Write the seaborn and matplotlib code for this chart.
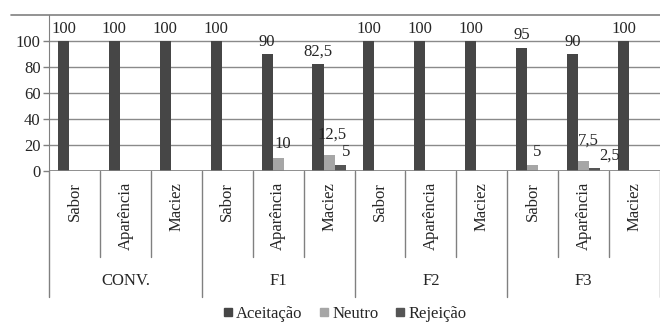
import matplotlib
matplotlib.use("Agg")
import matplotlib.pyplot as plt
import pandas as pd
import seaborn as sns
from matplotlib.lines import Line2D

grupos = ['CONV.', 'F1', 'F2', 'F3']
atributos = ['Sabor', 'Aparência', 'Maciez']
respostas = ['Aceitação', 'Neutro', 'Rejeição']

aceitacao = [100, 100, 100, 100, 90, 82.5, 100, 100, 100, 95, 90, 100]
neutro = [0, 0, 0, 0, 10, 12.5, 0, 0, 0, 5, 7.5, 0]
rejeicao = [0, 0, 0, 0, 0, 5, 0, 0, 0, 0, 2.5, 0]

cores = {'Aceitação': '#464646', 'Neutro': '#a6a6a6', 'Rejeição': '#555555'}

# label nudges in pixels (dx, dy) for the small labels that Excel moved
nudges = {(5, 'Neutro'): (3, 8), (5, 'Rejeição'): (6, 0), (4, 'Neutro'): (5, 2),
          (9, 'Neutro'): (4, 0), (10, 'Neutro'): (5, 8), (10, 'Rejeição'): (15, 0)}

cats = [f'{g}|{a}' for g in grupos for a in atributos]
df = pd.DataFrame({
    'cat': cats * 3,
    'resposta': [r for r in respostas for _ in cats],
    'valor': aceitacao + neutro + rejeicao,
})

sns.set_style('white')
plt.rcParams['font.family'] = ['Liberation Serif', 'DejaVu Serif']
FS = 12
plt.rcParams['font.size'] = FS

W, H = 660, 322
fig = plt.figure(figsize=(W / 100, H / 100), dpi=100)
ax = fig.add_axes([49 / W, (H - 171) / H, (660 - 49) / W, 156 / H])

sns.barplot(data=df, x='cat', y='valor', hue='resposta', order=cats,
            hue_order=respostas, palette=cores, width=0.65, gap=0,
            saturation=1, legend=False, ax=ax, edgecolor='none')

ax.set_xlim(-0.5, len(cats) - 0.5)
ax.set_ylim(0, 120)
ax.set_yticks(range(0, 101, 20))
ax.set_xticks([])
ax.set_xlabel('')
ax.set_ylabel('')
ax.tick_params(axis='y', length=4, width=1, color='#808080', left=True, pad=2)
for t in ax.get_yticklabels():
    t.set_fontsize(FS)
ax.grid(axis='y', color='#8a8a8a', linewidth=1)
ax.set_axisbelow(True)
for s in ['top', 'right', 'bottom']:
    ax.spines[s].set_visible(False)
ax.spines['left'].set_color('#808080')
ax.axhline(0, color='#808080', linewidth=1.2, zorder=3)

# data labels
series = {'Aceitação': aceitacao, 'Neutro': neutro, 'Rejeição': rejeicao}
for container, resp in zip(ax.containers, respostas):
    for i, bar in enumerate(container):
        v = series[resp][i]
        if v == 0:
            continue
        txt = f'{v:g}'.replace('.', ',')
        dx, dy = nudges.get((i, resp), (0, 0))
        ax.annotate(txt, (bar.get_x() + bar.get_width() / 2, bar.get_height()),
                    xytext=(dx * 0.72, 3 + dy * 0.72), textcoords='offset points',
                    ha='center', va='bottom', fontsize=FS)

# category axis with groups
tr = ax.get_xaxis_transform()
for k in range(len(cats) + 1):
    x = k - 0.5
    y_end = -126 / 156 if k % 3 == 0 else -86 / 156
    ax.plot([x, x], [0, y_end], transform=tr, color='#808080', lw=1, clip_on=False)
for k, c in enumerate(cats):
    ax.text(k, -11 / 156, c.split('|')[1], transform=tr, rotation=90,
            ha='center', va='top', fontsize=FS)
for g, nome in enumerate(grupos):
    ax.text(3 * g + 1, -110 / 156, nome, transform=tr, ha='center',
            va='center', fontsize=FS)

# chart top border
fig.add_artist(Line2D([11 / W, 1], [(H - 15) / H, (H - 15) / H],
                      color='#808080', lw=1.2))

handles = [Line2D([], [], marker='s', linestyle='none', markersize=6,
                  color=cores[r]) for r in respostas]
fig.legend(handles, respostas, loc='center', bbox_to_anchor=(344 / W, 8 / H),
           ncol=3, frameon=False, fontsize=FS, handletextpad=0.1,
           columnspacing=0.9, handlelength=0.8)

fig.savefig('out.png', dpi=100)
